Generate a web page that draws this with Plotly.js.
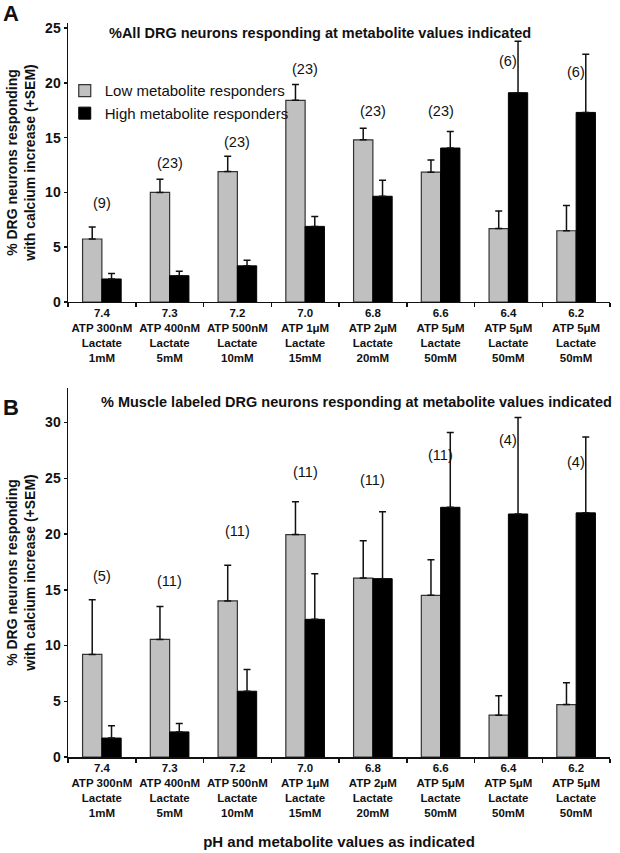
<!DOCTYPE html>
<html><head><meta charset="utf-8">
<script src="https://cdn.plot.ly/plotly-3.0.1.min.js"></script>
<style>html,body{margin:0;padding:0;background:#fff}#chart{width:620px;height:853px}</style>
</head><body><div id="chart"></div>
<script>
// Categories (pH and metabolite values)
const pH = ['7.4','7.3','7.2','7.0','6.8','6.6','6.4','6.2'];
const atp = ['ATP 300nM','ATP 400nM','ATP 500nM','ATP 1μM','ATP 2μM','ATP 5μM','ATP 5μM','ATP 5μM'];
const lactate = ['1mM','5mM','10mM','15mM','20mM','50mM','50mM','50mM'];

// Panel A: all DRG neurons
const allLow     = [5.75, 10.0, 11.9, 18.4, 14.8, 11.85, 6.7, 6.5];
const allLowSem  = [1.1, 1.2, 1.4, 1.45, 1.05, 1.1, 1.6, 2.3];
const allHigh    = [2.1, 2.4, 3.3, 6.9, 9.65, 14.05, 19.1, 17.3];
const allHighSem = [0.5, 0.4, 0.5, 0.9, 1.45, 1.5, 4.7, 5.3];
const allN       = ['(9)','(23)','(23)','(23)','(23)','(23)','(6)','(6)'];
const allNLabelY = [9.0, 12.7, 14.6, 21.3, 17.4, 17.4, 22.0, 21.0];

// Panel B: muscle labeled DRG neurons
const musLow     = [9.2, 10.55, 14.0, 19.95, 16.05, 14.5, 3.75, 4.7];
const musLowSem  = [4.9, 2.95, 3.2, 2.95, 3.35, 3.2, 1.75, 1.95];
const musHigh    = [1.7, 2.25, 5.9, 12.35, 16.0, 22.4, 21.8, 21.9];
const musHighSem = [1.1, 0.75, 1.95, 4.1, 6.0, 6.7, 8.65, 6.8];
const musN       = ['(5)','(11)','(11)','(11)','(11)','(11)','(4)','(4)'];
const musNLabelY = [16.2, 15.75, 20.3, 25.6, 24.85, 27.1, 28.4, 26.5];

const cats = pH.map((p,i) => p + '<br>' + atp[i] + '<br>Lactate<br>' + lactate[i]);
const zeros = cats.map(() => 0);

const FONT = 'Liberation Sans, Arial, sans-serif';
const GRAY = {color:'#c0c0c0', line:{color:'#333', width:1.2}};
const BLACK = {color:'#000', line:{color:'#000', width:1}};
function err(sem){ return {type:'data', symmetric:false, array:sem, arrayminus:zeros, color:'#111', thickness:1.5, width:3.5}; }

const traces = [
  {type:'bar', name:'Low metabolite responders', x:cats, y:allLow, marker:GRAY, error_y:err(allLowSem), xaxis:'x', yaxis:'y', legendgroup:'low'},
  {type:'bar', name:'High metabolite responders', x:cats, y:allHigh, marker:BLACK, error_y:err(allHighSem), xaxis:'x', yaxis:'y', legendgroup:'high'},
  {type:'bar', name:'Low metabolite responders', x:cats, y:musLow, marker:GRAY, error_y:err(musLowSem), xaxis:'x2', yaxis:'y2', showlegend:false, legendgroup:'low'},
  {type:'bar', name:'High metabolite responders', x:cats, y:musHigh, marker:BLACK, error_y:err(musHighSem), xaxis:'x2', yaxis:'y2', showlegend:false, legendgroup:'high'}
];

const annotations = [];
cats.forEach((c,i) => {
  annotations.push({x:c, y:allNLabelY[i], xref:'x', yref:'y', text:allN[i], showarrow:false, yanchor:'middle', font:{size:14.5, color:'#111'}});
  annotations.push({x:c, y:musNLabelY[i], xref:'x2', yref:'y2', text:musN[i], showarrow:false, yanchor:'middle', font:{size:14.5, color:'#111'}});
});
annotations.push({xref:'paper', yref:'paper', x:0.465, y:0.9864, xanchor:'center', yanchor:'middle', text:'%All DRG neurons responding at metabolite values indicated', showarrow:false, font:{size:14.5, weight:'bold', color:'#111'}});
annotations.push({xref:'paper', yref:'paper', x:0.533, y:0.4837, xanchor:'center', yanchor:'middle', text:'% Muscle labeled DRG neurons responding at metabolite values indicated', showarrow:false, font:{size:14.5, weight:'bold', color:'#111'}});
annotations.push({xref:'paper', yref:'paper', x:-0.123, y:1.0125, xanchor:'left', yanchor:'middle', text:'A', showarrow:false, font:{size:22, weight:'bold', color:'#111'}});
annotations.push({xref:'paper', yref:'paper', x:-0.123, y:0.4768, xanchor:'left', yanchor:'middle', text:'B', showarrow:false, font:{size:22, weight:'bold', color:'#111'}});

const yTitle = {text:'% DRG neurons responding<br>with calcium increase (+SEM)', font:{size:14, weight:'bold', color:'#111'}, standoff:6};
const xCommon = {type:'category', range:[-0.5,7.5], showline:true, linecolor:'#111', linewidth:1.5, ticks:'outside', tickson:'boundaries', ticklen:4, tickwidth:1.5, tickcolor:'#111', tickangle:0, tickfont:{size:11.5, weight:'bold', color:'#111'}, showgrid:false, zeroline:false, fixedrange:true};
const yCommon = {showline:true, linecolor:'#111', linewidth:1.5, ticks:'outside', ticklen:3, tickwidth:1.5, tickcolor:'#111', tickfont:{size:14, weight:'bold', color:'#111'}, dtick:5, showgrid:false, zeroline:false, fixedrange:true};

const layout = {
  width:620, height:853,
  margin:{l:68, r:10, t:23, b:96},
  font:{family:FONT, color:'#111'},
  paper_bgcolor:'#fff', plot_bgcolor:'rgba(0,0,0,0)',
  barmode:'group', bargap:0.43, bargroupgap:0,
  showlegend:true,
  legend:{x:-0.006, y:0.93, xanchor:'left', yanchor:'top', bgcolor:'rgba(0,0,0,0)', font:{size:15, color:'#111'}, tracegroupgap:4, traceorder:'normal'},
  xaxis:Object.assign({}, xCommon, {domain:[0,1], anchor:'y'}),
  yaxis:Object.assign({}, yCommon, {domain:[0.6199,1], range:[0,25.46], anchor:'x', title:yTitle}),
  xaxis2:Object.assign({}, xCommon, {domain:[0,1], anchor:'y2', title:{text:'pH and metabolite values as indicated', font:{size:15, weight:'bold', color:'#111'}, standoff:18}}),
  yaxis2:Object.assign({}, yCommon, {domain:[0,0.5027], range:[0,33.1], anchor:'x2', title:yTitle}),
  annotations:annotations,
  hovermode:false
};

Plotly.newPlot('chart', traces, layout, {displayModeBar:false, staticPlot:true});
</script>
</body></html>
